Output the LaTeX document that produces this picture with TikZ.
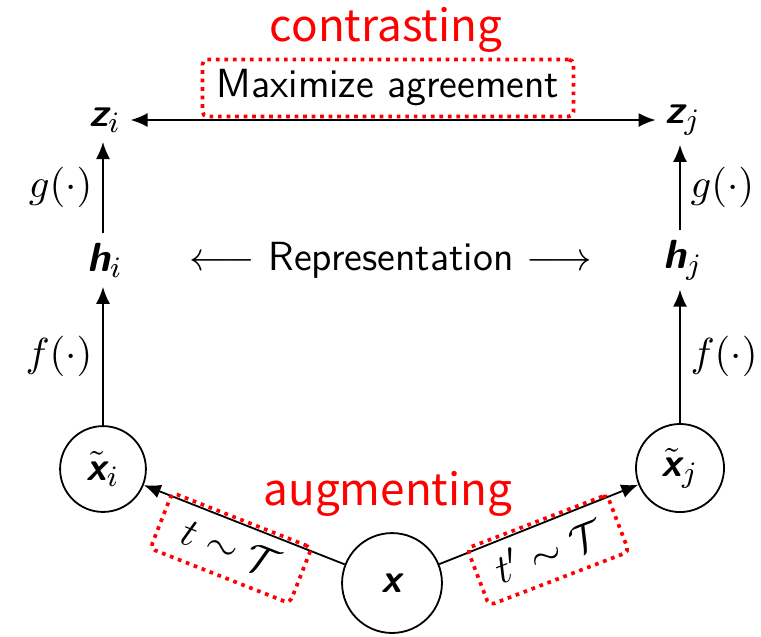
\documentclass[tikz,border=0pt]{standalone}
\usepackage{amsmath,amssymb}
\usepackage{fontspec}
\newfontfamily\redfont{Noto Sans CJK SC}
\usetikzlibrary{arrows.meta}
\newcommand\bvv[1]{\text{\sffamily\bfseries\slshape #1}}
\tikzset{
  txt/.style={font=\fontsize{11}{13}\selectfont\sffamily, inner sep=2.4pt},
  redtxt/.style={font=\fontsize{11.9}{14}\selectfont\redfont, text=red, inner sep=0pt},
  circnode/.style={draw, circle, line width=0.49pt, inner sep=0pt, font=\fontsize{11}{13}\selectfont},
  arr/.style={line width=0.49pt, -{Latex[length=4.6pt,width=3.8pt]}},
  dotbox/.style={draw=red, line width=1pt, dash pattern=on 1pt off 1.3pt, rounded corners=1.35pt, inner sep=0pt, font=\fontsize{11}{13}\selectfont\sffamily},
  sidelbl/.style={font=\fontsize{11}{13}\selectfont, inner sep=2.6pt}
}
\begin{document}
\begin{tikzpicture}[x=0.27027pt,y=-0.27027pt]
\useasboundingbox (0,0) rectangle (761,636);
% nodes
\node[txt] (zi) at (105,120) {$\bvv{z}_i$};
\node[txt] (zj) at (683,120) {$\bvv{z}_j$};
\node[txt] (hi) at (105,260) {$\bvv{h}_i$};
\node[txt] (hj) at (683,260) {$\bvv{h}_j$};
\node[circnode, minimum size=23.2pt] (xi) at (103,469) {$\tilde{\bvv{x}}_i$};
\node[circnode, minimum size=23.8pt] (xj) at (680,468) {$\tilde{\bvv{x}}_j$};
\node[circnode, minimum size=27pt] (x) at (392,583) {$\bvv{x}$};
% red labels
\node[redtxt] (contr) at (386,30) {contrasting};
\node[redtxt] (augm) at (388,494) {augmenting};
% representation
\node[txt] (rep) at (391,260) {$\longleftarrow$ Representation $\longrightarrow$};
% connectors
\draw[arr] (xi.north |- hi.north) -- node[sidelbl, left] (gl) {$g(\cdot)$} (xi.north |- zi.south);
\draw[arr] (xj.north |- hj.north) -- node[sidelbl, right] (gr) {$g(\cdot)$} (xj.north |- zj.south);
\draw[arr] (xi.north) -- node[sidelbl, left] (fl) {$f(\cdot)$} (xi.north |- hi.south);
\draw[arr] (xj.north) -- node[sidelbl, right] (fr) {$f(\cdot)$} (xj.north |- hj.south);
\draw[line width=0.49pt, {Latex[length=4.6pt,width=3.8pt]}-{Latex[length=4.6pt,width=3.8pt]}] (zi) -- (zj);
\draw[arr] (x) -- (xi);
\draw[arr] (x) -- (xj);
% dotted boxes
\node[dotbox, minimum width=100.3pt, minimum height=15.4pt] (maxag) at (388,88) {Maximize agreement};
\node[dotbox, minimum width=40.5pt, minimum height=16.2pt, rotate=-21.5] (tl) at (231,548) {$t\sim\mathcal{T}$};
\node[dotbox, minimum width=40.5pt, minimum height=16.5pt, rotate=21] (tr) at (548,550) {$t'\sim\mathcal{T}$};
\end{tikzpicture}
\end{document}
